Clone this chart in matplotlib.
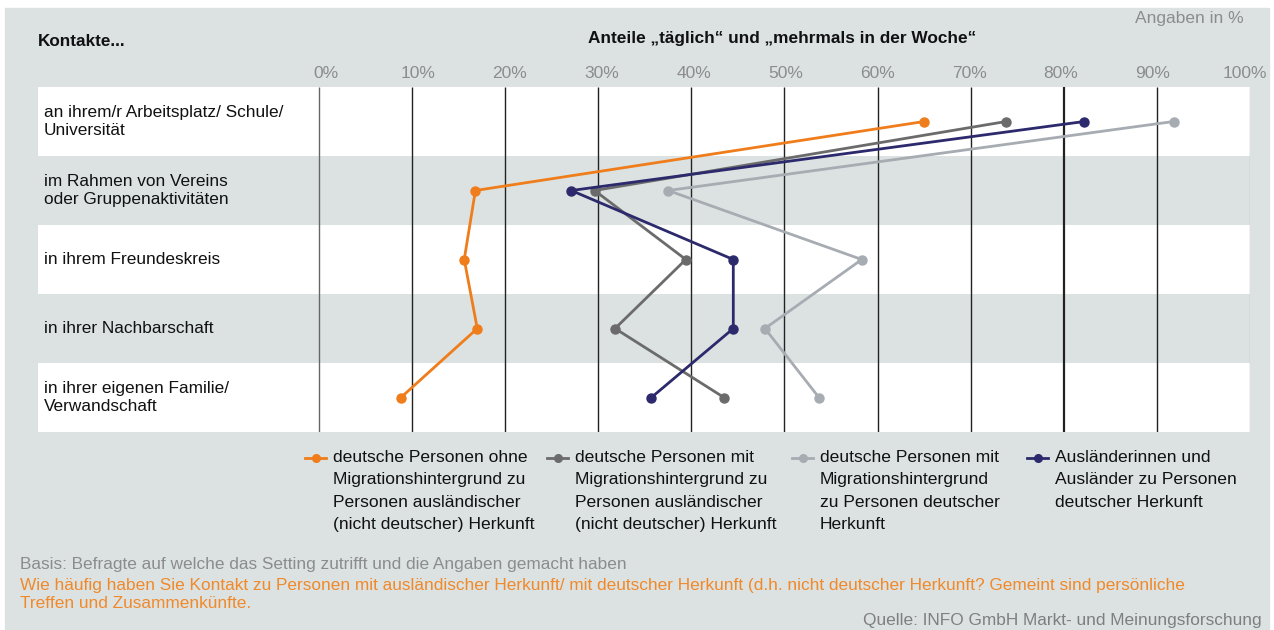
import numpy as np
import matplotlib.pyplot as plt
from matplotlib.lines import Line2D

plt.rcParams['font.family'] = ['Liberation Sans', 'DejaVu Sans']

W, H = 1274, 630
BG = '#dce2e2'

categories = [
    "an ihrem/r Arbeitsplatz/ Schule/\nUniversität",
    "im Rahmen von Vereins\noder Gruppenaktivitäten",
    "in ihrem Freundeskreis",
    "in ihrer Nachbarschaft",
    "in ihrer eigenen Familie/\nVerwandschaft",
]
ticks = np.arange(0, 101, 10)

# shares "täglich" + "mehrmals in der Woche", in %
de_ohne_mig = [65, 16.8, 15.6, 17.0, 8.8]
de_mig_ausl = [73.8, 29.6, 39.4, 31.8, 43.5]
de_mig_dt = [91.8, 37.5, 58.3, 47.9, 53.7]
ausl_dt = [82.2, 27.1, 44.5, 44.5, 35.7]

series = [
    (de_ohne_mig, '#ef7d1b', "deutsche Personen ohne\nMigrationshintergrund zu\nPersonen ausländischer\n(nicht deutscher) Herkunft"),
    (de_mig_ausl, '#6b6b6b', "deutsche Personen mit\nMigrationshintergrund zu\nPersonen ausländischer\n(nicht deutscher) Herkunft"),
    (de_mig_dt, '#a7acb3', "deutsche Personen mit\nMigrationshintergrund\nzu Personen deutscher\nHerkunft"),
    (ausl_dt, '#2c2a6c', "Ausländerinnen und\nAusländer zu Personen\ndeutscher Herkunft"),
]


def fx(px):
    return px / W


def fy(py):
    return 1 - py / H


fig = plt.figure(figsize=(W / 100, H / 100), dpi=100)
fig.patch.set_facecolor('white')
fig.patches.append(plt.Rectangle((fx(5), 0), fx(1269) - fx(5), fy(8),
                                 transform=fig.transFigure, color=BG, zorder=-5))

# axes: left edge at the label column, 0% at x=319px, 100% at x=1250px
left_px, zero_px, full_px = 38, 319, 1250
x0 = -100 * (zero_px - left_px) / (full_px - zero_px)
ax = fig.add_axes([fx(left_px), fy(432), fx(full_px) - fx(left_px), fy(87) - fy(432)])
ax.set_xlim(x0, 100)
ax.set_ylim(len(categories) - 0.5, -0.5)
ax.axis('off')

for i in range(len(categories)):
    ax.axhspan(i - 0.5, i + 0.5, color='white' if i % 2 == 0 else BG, zorder=0, lw=0)

for t in ticks:
    col = '#222222'
    lw = 1.0
    if t == 0:
        col = '#666666'
    elif t == 100:
        col = '#b5b5b5'
    elif t == 80:
        lw = 1.6
    ax.plot([t, t], [-0.5, len(categories) - 0.5], color=col, lw=lw, zorder=1,
            solid_capstyle='butt')
    # labels in the original sit on a slightly narrower scale than the lines
    ax.text(0.75 + t * 0.987, -0.5 - 13 / 69, f"{t}%", ha='center', va='center',
            fontsize=12.5, color='#8c8c8c', clip_on=False)

ypos = np.arange(len(categories))
for vals, col, _ in series:
    ax.plot(vals, ypos, color=col, lw=2, marker='o', ms=6.5, zorder=3, clip_on=False)

for i, cat in enumerate(categories):
    ax.text(x0 + 0.65, i, cat, ha='left', va='center', fontsize=12.4,
            linespacing=1.22, color='#111111')

fig.text(fx(38), fy(42), "Kontakte...", fontsize=12.3, fontweight='bold',
         ha='left', va='center', color='#111111')
fig.text(fx(782), fy(38), "Anteile „täglich“ und „mehrmals in der Woche“",
         fontsize=12.4, fontweight='bold', ha='center', va='center', color='#111111')
fig.text(fx(1244), fy(18), "Angaben in %", fontsize=12.5, ha='right',
         va='center', color='#8c8c8c')

# legend
leg_x = [333, 575, 820, 1055]
for (vals, col, lab), lx in zip(series, leg_x):
    fig.add_artist(Line2D([fx(lx - 28), fx(lx - 7)], [fy(458), fy(458)], color=col,
                          lw=2, transform=fig.transFigure))
    fig.add_artist(Line2D([fx(lx - 17)], [fy(458)], color=col, marker='o', ms=5.5,
                          transform=fig.transFigure))
    fig.text(fx(lx), fy(450), lab, fontsize=12.6, ha='left', va='top',
             linespacing=1.62, color='#111111')

fig.text(fx(20), fy(564), "Basis: Befragte auf welche das Setting zutrifft und die Angaben gemacht haben",
         fontsize=12.4, ha='left', va='center', color='#8c8c8c')
fig.text(fx(20), fy(578),
         "Wie häufig haben Sie Kontakt zu Personen mit ausländischer Herkunft/ mit deutscher Herkunft "
         "(d.h. nicht deutscher Herkunft? Gemeint sind persönliche\nTreffen und Zusammenkünfte.",
         fontsize=12.4, ha='left', va='top', linespacing=1.28, color='#f0892a')
fig.text(fx(1262), fy(620), "Quelle: INFO GmbH Markt- und Meinungsforschung",
         fontsize=12.4, ha='right', va='center', color='#7f7f7f')

fig.savefig('out.png', dpi=100, facecolor=fig.get_facecolor())
